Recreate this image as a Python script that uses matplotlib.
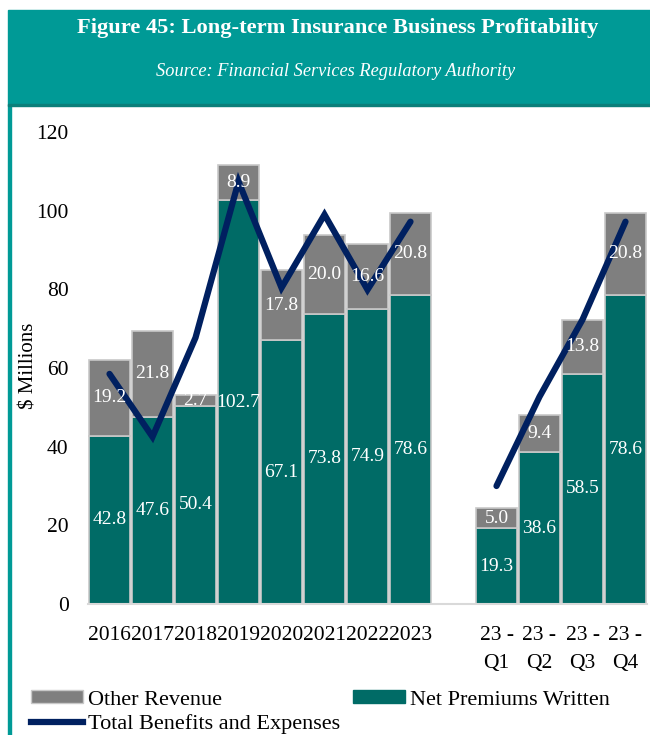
import numpy as np
import matplotlib.pyplot as plt
from matplotlib.patches import Rectangle
from matplotlib.lines import Line2D

plt.rcParams['font.family'] = ['Liberation Serif', 'DejaVu Serif']

categories = ['2016', '2017', '2018', '2019', '2020', '2021', '2022', '2023', '',
              '23 -\nQ1', '23 -\nQ2', '23 -\nQ3', '23 -\nQ4']
net_premiums = [42.8, 47.6, 50.4, 102.7, 67.1, 73.8, 74.9, 78.6, np.nan,
                19.3, 38.6, 58.5, 78.6]
other_revenue = [19.2, 21.8, 2.7, 8.9, 17.8, 20.0, 16.6, 20.8, np.nan,
                 5.0, 9.4, 13.8, 20.8]
benefits_expenses = [58.5, 42.5, 67.7, 107.4, 80.4, 99.0, 79.9, 97.2, np.nan,
                     30.0, 52.7, 72.3, 97.2]

teal_head = '#009a96'
teal_bar = '#006b66'
grey_bar = '#7f7f7f'
navy = '#002060'

fig = plt.figure(figsize=(6.5, 7.35), dpi=100)

# header band and frame
fig.patches.append(Rectangle((8 / 650, 1 - 105 / 735), 642 / 650, 95 / 735,
                             transform=fig.transFigure, color=teal_head, zorder=0))
fig.patches.append(Rectangle((8 / 650, 1 - 106 / 735), 642 / 650, 2 / 735,
                             transform=fig.transFigure, color='#0b7f7a', zorder=1))
fig.patches.append(Rectangle((8 / 650, 0), 3 / 650, 1 - 105 / 735,
                             transform=fig.transFigure, color=teal_head, zorder=0))
fig.text(0.52, 1 - 28 / 735, 'Figure 45: Long-term Insurance Business Profitability',
         ha='center', va='center', color='white', fontsize=16.2, fontweight='bold')
fig.text(0.517, 1 - 71 / 735, 'Source: Financial Services Regulatory Authority',
         ha='center', va='center', color='white', fontsize=13.2, style='italic')

ax = fig.add_axes([88 / 650, 1 - 604 / 735, 559 / 650, 472 / 735])
x = np.arange(len(categories))
ax.bar(x, net_premiums, width=0.94, color=teal_bar, edgecolor='#c8c8c8', linewidth=1.2,
       label='Net Premiums Written', zorder=2)
ax.bar(x, other_revenue, width=0.94, bottom=net_premiums, color=grey_bar,
       edgecolor='#c8c8c8', linewidth=1.2, label='Other Revenue', zorder=2)
ax.plot(x, benefits_expenses, color=navy, linewidth=4.5, solid_capstyle='round',
        solid_joinstyle='miter', label='Total Benefits and Expenses', zorder=3)

for i in range(len(categories)):
    if np.isnan(net_premiums[i]):
        continue
    ax.text(x[i], net_premiums[i] / 2, f'{net_premiums[i]:.1f}', ha='center', va='center',
            color='white', fontsize=14, zorder=4)
    ax.text(x[i], net_premiums[i] + other_revenue[i] / 2, f'{other_revenue[i]:.1f}',
            ha='center', va='center', color='white', fontsize=14, zorder=4)

ax.set_xlim(-0.5, len(categories) - 0.5)
ax.set_ylim(0, 120)
ax.set_yticks(range(0, 121, 20))
ax.set_xticks(x)
ax.set_xticklabels(categories, fontsize=15.5, linespacing=1.65, va='top')
ax.tick_params(axis='y', labelsize=15.5, length=0, pad=14)
ax.tick_params(axis='x', length=0, pad=16)
ax.set_ylabel('$ Millions', fontsize=15)
ax.yaxis.set_label_coords(-0.088, 0.505)
for side in ['top', 'right', 'left']:
    ax.spines[side].set_visible(False)
ax.spines['bottom'].set_color('#d9d9d9')
ax.spines['bottom'].set_linewidth(1.5)

handles = [Rectangle((0, 0), 1, 1, color=grey_bar, ec='#c8c8c8'),
           Line2D([], [], color=navy, linewidth=4.5),
           Rectangle((0, 0), 1, 1, color=teal_bar)]
labels = ['Other Revenue', 'Total Benefits and Expenses', 'Net Premiums Written']
fig.legend(handles, labels, ncol=2, loc='upper left',
           bbox_to_anchor=(31 / 650, 1 - 690 / 735), frameon=False, fontsize=16,
           handlelength=2.35, handleheight=0.55, handletextpad=0.2,
           columnspacing=0.6, labelspacing=0.22, borderaxespad=0, borderpad=0)

fig.savefig('out.png', dpi=100)
